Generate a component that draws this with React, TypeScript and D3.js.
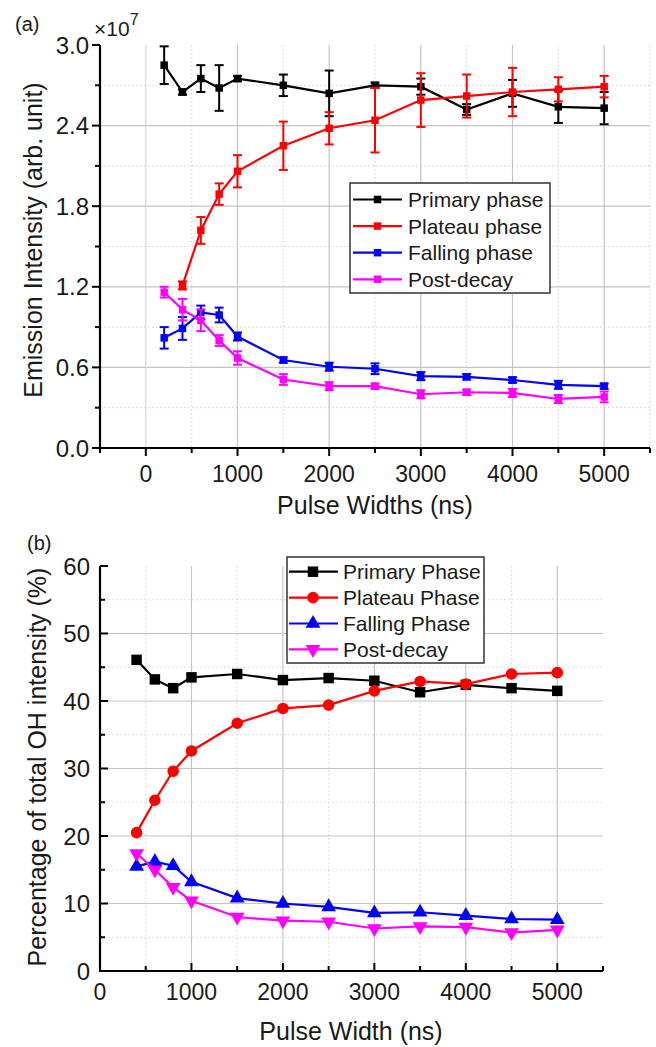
import React from "react";
import * as d3 from "d3";

// ---------- Panel (a) data ----------
const pulseA = [200, 400, 600, 800, 1000, 1500, 2000, 2500, 3000, 3500, 4000, 4500, 5000];
const primaryA = [2.85, 2.65, 2.75, 2.68, 2.75, 2.70, 2.64, 2.70, 2.69, 2.52, 2.64, 2.54, 2.53];
const primaryErrA = [0.14, 0.02, 0.10, 0.17, 0.02, 0.08, 0.17, 0.02, 0.06, 0.04, 0.10, 0.12, 0.12];
const pulseRedA = [400, 600, 800, 1000, 1500, 2000, 2500, 3000, 3500, 4000, 4500, 5000];
const plateauA = [1.21, 1.62, 1.89, 2.06, 2.25, 2.38, 2.44, 2.59, 2.62, 2.65, 2.67, 2.69];
const plateauErrA = [0.03, 0.10, 0.08, 0.12, 0.18, 0.12, 0.24, 0.20, 0.16, 0.18, 0.09, 0.08];
const fallingA = [0.82, 0.89, 1.01, 0.99, 0.83, 0.655, 0.605, 0.59, 0.535, 0.53, 0.506, 0.47, 0.46];
const fallingErrA = [0.08, 0.085, 0.05, 0.055, 0.03, 0.02, 0.03, 0.04, 0.03, 0.02, 0.02, 0.03, 0.02];
const postA = [1.16, 1.03, 0.95, 0.80, 0.67, 0.51, 0.46, 0.46, 0.40, 0.415, 0.41, 0.365, 0.38];
const postErrA = [0.04, 0.08, 0.08, 0.04, 0.05, 0.04, 0.03, 0.02, 0.03, 0.02, 0.03, 0.03, 0.04];
const yTicksA = [0, 0.6, 1.2, 1.8, 2.4, 3.0];
const yMinorA = [0.3, 0.9, 1.5, 2.1, 2.7];
const xTicksA = [0, 1000, 2000, 3000, 4000, 5000];
const xMinorA = [-500, 500, 1500, 2500, 3500, 4500, 5500];
const legendA = ["Primary phase", "Plateau phase", "Falling phase", "Post-decay"];

// ---------- Panel (b) data ----------
const pulseB = [400, 600, 800, 1000, 1500, 2000, 2500, 3000, 3500, 4000, 4500, 5000];
const primaryB = [46.1, 43.2, 41.9, 43.5, 44.0, 43.1, 43.4, 43.0, 41.3, 42.4, 41.9, 41.5];
const plateauB = [20.5, 25.3, 29.6, 32.6, 36.7, 38.9, 39.4, 41.5, 42.9, 42.5, 44.0, 44.2];
const fallingB = [15.5, 16.2, 15.6, 13.2, 10.8, 10.0, 9.5, 8.6, 8.7, 8.2, 7.7, 7.6];
const postB = [17.4, 15.0, 12.4, 10.4, 8.0, 7.45, 7.3, 6.3, 6.6, 6.5, 5.7, 6.1];
const yTicksB = [0, 10, 20, 30, 40, 50, 60];
const yMinorB = [5, 15, 25, 35, 45, 55];
const xTicksB = [0, 1000, 2000, 3000, 4000, 5000];
const xMinorB = [500, 1500, 2500, 3500, 4500, 5500];
const legendB = ["Primary Phase", "Plateau Phase", "Falling Phase", "Post-decay"];

const COLORS = ["#000000", "#ff0000", "#0000ff", "#ff00ff"];
const FONT = "'Liberation Sans', Arial, Helvetica, sans-serif";
const GRID_MAJOR = "#c4c4c4";
const GRID_MINOR = "#d6d6d6";

type Pt = { x: number; y: number; e?: number };

function zip(xs: number[], ys: number[], es?: number[]): Pt[] {
  return xs.map((x, i) => ({ x, y: ys[i], e: es ? es[i] : undefined }));
}

export default function App() {
  // ---------- scales (a) ----------
  const xA = d3.scaleLinear().domain([-500, 5500]).range([100, 650]);
  const yA = d3.scaleLinear().domain([0, 3]).range([448, 45]);
  // ---------- scales (b) ----------
  const xB = d3.scaleLinear().domain([0, 5500]).range([100, 603]);
  const yB = d3.scaleLinear().domain([0, 60]).range([971, 566]);

  const seriesA: Pt[][] = [
    zip(pulseA, primaryA, primaryErrA),
    zip(pulseRedA, plateauA, plateauErrA),
    zip(pulseA, fallingA, fallingErrA),
    zip(pulseA, postA, postErrA),
  ];
  const seriesB: Pt[][] = [
    zip(pulseB, primaryB),
    zip(pulseB, plateauB),
    zip(pulseB, fallingB),
    zip(pulseB, postB),
  ];

  const lineA = d3.line<Pt>().x((d) => xA(d.x)).y((d) => yA(d.y));
  const lineB = d3.line<Pt>().x((d) => xB(d.x)).y((d) => yB(d.y));

  const sq = d3.symbol().type(d3.symbolSquare);
  const symA = sq.size(56)() as string;
  const symsB = [
    d3.symbol().type(d3.symbolSquare).size(110)() as string,
    d3.symbol().type(d3.symbolCircle).size(105)() as string,
    d3.symbol().type(d3.symbolTriangle).size(95)() as string,
    d3.symbol().type(d3.symbolTriangle).size(95)() as string,
  ];
  const rotB = [0, 0, 0, 180];

  const cap = 4.5;

  return (
    <svg
      width={656}
      height={1047}
      style={{ position: "absolute", left: 0, top: 0, background: "#fff" }}
      fontFamily={FONT}
    >
      <rect x={0} y={0} width={656} height={1047} fill="#fff" />

      {/* ================= Panel (a) ================= */}
      <g>
        {/* grid */}
        {yMinorA.map((t) => (
          <line key={"gam" + t} x1={100} x2={650} y1={yA(t)} y2={yA(t)} stroke={GRID_MINOR} strokeWidth={1.2} strokeDasharray="1.5,2.5" />
        ))}
        {xMinorA.filter((t) => t > -500).map((t) => (
          <line key={"gxm" + t} x1={xA(t)} x2={xA(t)} y1={45} y2={448} stroke={GRID_MINOR} strokeWidth={1.2} strokeDasharray="1.5,2.5" />
        ))}
        {yTicksA.filter((t) => t > 0 && t < 3).map((t) => (
          <line key={"gaM" + t} x1={100} x2={650} y1={yA(t)} y2={yA(t)} stroke={GRID_MAJOR} strokeWidth={1.2} />
        ))}
        {xTicksA.map((t) => (
          <line key={"gxM" + t} x1={xA(t)} x2={xA(t)} y1={45} y2={448} stroke={t === 0 ? GRID_MINOR : GRID_MAJOR} strokeWidth={1.2} />
        ))}

        {/* axes */}
        <line x1={100} x2={100} y1={yA(3)} y2={yA(0) + 1} stroke="#000" strokeWidth={2.2} />
        <line x1={99} x2={650} y1={yA(0)} y2={yA(0)} stroke="#000" strokeWidth={2.2} />
        {yTicksA.map((t) => (
          <g key={"yta" + t}>
            <line x1={92} x2={100} y1={yA(t)} y2={yA(t)} stroke="#000" strokeWidth={2} />
            <text x={89} y={yA(t)} dy="0.36em" textAnchor="end" fontSize={24} fill="#1a1a1a">
              {t.toFixed(1)}
            </text>
          </g>
        ))}
        {yMinorA.map((t) => (
          <line key={"ytma" + t} x1={95} x2={100} y1={yA(t)} y2={yA(t)} stroke="#000" strokeWidth={2} />
        ))}
        {xTicksA.map((t) => (
          <g key={"xta" + t}>
            <line x1={xA(t)} x2={xA(t)} y1={448} y2={456} stroke="#000" strokeWidth={2} />
            <text x={xA(t)} y={482} textAnchor="middle" fontSize={23} fill="#1a1a1a">
              {t}
            </text>
          </g>
        ))}
        {xMinorA.map((t) => (
          <line key={"xtma" + t} x1={xA(t)} x2={xA(t)} y1={448} y2={453} stroke="#000" strokeWidth={2} />
        ))}

        {/* labels */}
        <text x={15} y={31} fontSize={20} fill="#1a1a1a">(a)</text>
        <text x={94} y={36} fontSize={21} fill="#1a1a1a">
          ×10
          <tspan fontSize={16} dy={-11}>7</tspan>
        </text>
        <text
          transform={`translate(42, 240) rotate(-90)`}
          textAnchor="middle"
          fontSize={25}
          fill="#1a1a1a"
        >
          Emission Intensity (arb. unit)
        </text>
        <text x={375} y={514} textAnchor="middle" fontSize={25} fill="#1a1a1a">
          Pulse Widths (ns)
        </text>

        {/* series */}
        {seriesA.map((s, i) => (
          <g key={"sa" + i}>
            <path d={lineA(s) as string} fill="none" stroke={COLORS[i]} strokeWidth={2.2} />
            {s.map((d, j) => {
              const cx = xA(d.x);
              const y1 = yA(d.y + (d.e || 0));
              const y2 = yA(d.y - (d.e || 0));
              return (
                <g key={j}>
                  <line x1={cx} x2={cx} y1={y1} y2={y2} stroke={COLORS[i]} strokeWidth={2} />
                  <line x1={cx - cap} x2={cx + cap} y1={y1} y2={y1} stroke={COLORS[i]} strokeWidth={2} />
                  <line x1={cx - cap} x2={cx + cap} y1={y2} y2={y2} stroke={COLORS[i]} strokeWidth={2} />
                  <path d={symA} transform={`translate(${cx},${yA(d.y)})`} fill={COLORS[i]} />
                </g>
              );
            })}
          </g>
        ))}

        {/* legend (a) */}
        <rect x={350} y={183} width={200} height={110} fill="#fff" stroke="#333" strokeWidth={1.5} />
        {legendA.map((name, i) => {
          const ly = 199.5 + i * 26.6;
          return (
            <g key={"la" + i}>
              <line x1={353} x2={402} y1={ly} y2={ly} stroke={COLORS[i]} strokeWidth={2.2} />
              <path d={symA} transform={`translate(377.5,${ly})`} fill={COLORS[i]} />
              <text x={408} y={ly} dy="0.36em" fontSize={21} fill="#1a1a1a">
                {name}
              </text>
            </g>
          );
        })}
      </g>

      {/* ================= Panel (b) ================= */}
      <g>
        {/* grid */}
        {yMinorB.map((t) => (
          <line key={"gbm" + t} x1={100} x2={603} y1={yB(t)} y2={yB(t)} stroke={GRID_MINOR} strokeWidth={1.2} strokeDasharray="1.5,2.5" />
        ))}
        {xMinorB.filter((t) => t < 5500).map((t) => (
          <line key={"gbxm" + t} x1={xB(t)} x2={xB(t)} y1={566} y2={971} stroke={GRID_MINOR} strokeWidth={1.2} strokeDasharray="1.5,2.5" />
        ))}
        {yTicksB.filter((t) => t > 0 && t < 60).map((t) => (
          <line key={"gbM" + t} x1={100} x2={603} y1={yB(t)} y2={yB(t)} stroke={GRID_MAJOR} strokeWidth={1.2} />
        ))}
        {xTicksB.filter((t) => t > 0).map((t) => (
          <line key={"gbxM" + t} x1={xB(t)} x2={xB(t)} y1={566} y2={971} stroke={GRID_MAJOR} strokeWidth={1.2} />
        ))}

        {/* axes */}
        <line x1={100} x2={100} y1={yB(60)} y2={yB(0) + 1} stroke="#000" strokeWidth={2.2} />
        <line x1={99} x2={603} y1={yB(0)} y2={yB(0)} stroke="#000" strokeWidth={2.2} />
        {yTicksB.map((t) => (
          <g key={"ytb" + t}>
            <line x1={100} x2={108} y1={yB(t)} y2={yB(t)} stroke="#000" strokeWidth={2} />
            <text x={90} y={yB(t)} dy="0.36em" textAnchor="end" fontSize={24} fill="#1a1a1a">
              {t}
            </text>
          </g>
        ))}
        {yMinorB.map((t) => (
          <line key={"ytmb" + t} x1={100} x2={105} y1={yB(t)} y2={yB(t)} stroke="#000" strokeWidth={2} />
        ))}
        {xTicksB.map((t) => (
          <g key={"xtb" + t}>
            <line x1={xB(t)} x2={xB(t)} y1={971} y2={963} stroke="#000" strokeWidth={2} />
            <text x={xB(t)} y={1000} textAnchor="middle" fontSize={23} fill="#1a1a1a">
              {t}
            </text>
          </g>
        ))}
        {xMinorB.map((t) => (
          <line key={"xtmb" + t} x1={xB(t)} x2={xB(t)} y1={971} y2={966} stroke="#000" strokeWidth={2} />
        ))}

        {/* labels */}
        <text x={27} y={550} fontSize={20} fill="#1a1a1a">(b)</text>
        <text
          transform={`translate(46, 767) rotate(-90)`}
          textAnchor="middle"
          fontSize={25}
          fill="#1a1a1a"
        >
          Percentage of total OH intensity (%)
        </text>
        <text x={351} y={1040} textAnchor="middle" fontSize={25} fill="#1a1a1a">
          Pulse Width (ns)
        </text>

        {/* series */}
        {seriesB.map((s, i) => (
          <g key={"sb" + i}>
            <path d={lineB(s) as string} fill="none" stroke={COLORS[i]} strokeWidth={2.2} />
            {s.map((d, j) => (
              <path
                key={j}
                d={symsB[i]}
                transform={`translate(${xB(d.x)},${yB(d.y)}) rotate(${rotB[i]})`}
                fill={COLORS[i]}
              />
            ))}
          </g>
        ))}

        {/* legend (b) */}
        <rect x={287} y={557} width={197} height={106} fill="#fff" stroke="#333" strokeWidth={1.5} />
        {legendB.map((name, i) => {
          const ly = 571.7 + i * 25.9;
          return (
            <g key={"lb" + i}>
              <line x1={289} x2={338} y1={ly} y2={ly} stroke={COLORS[i]} strokeWidth={2.2} />
              <path d={symsB[i]} transform={`translate(313,${ly}) rotate(${rotB[i]})`} fill={COLORS[i]} />
              <text x={343} y={ly} dy="0.36em" fontSize={21} fill="#1a1a1a">
                {name}
              </text>
            </g>
          );
        })}
      </g>
    </svg>
  );
}
